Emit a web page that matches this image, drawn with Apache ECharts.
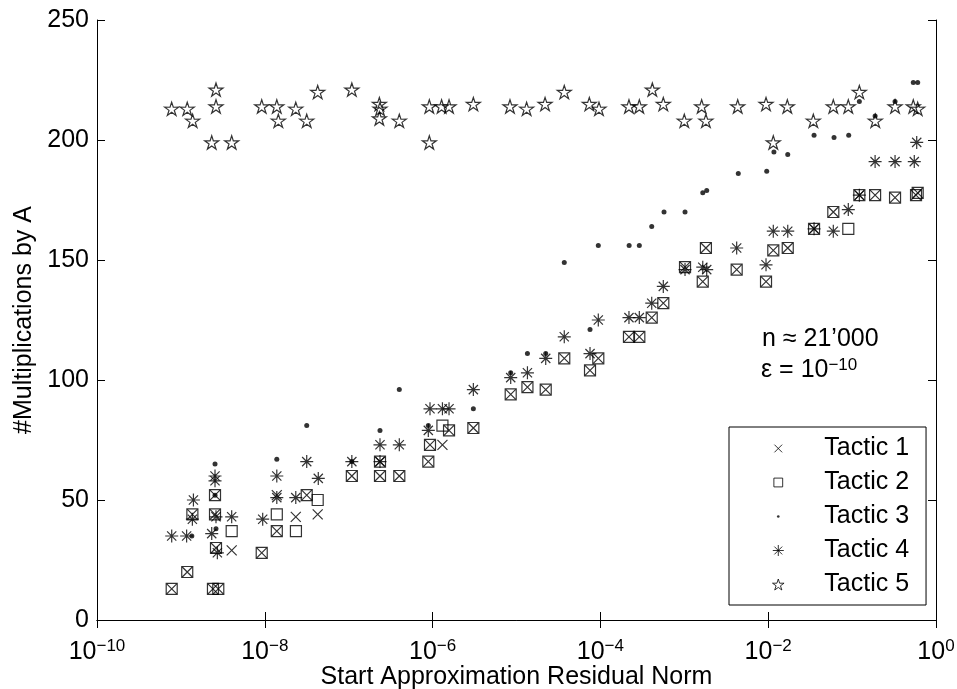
<!DOCTYPE html>
<html>
<head>
<meta charset="utf-8">
<script src="https://cdn.jsdelivr.net/npm/echarts@6/dist/echarts.min.js"></script>
<style>html,body{margin:0;padding:0;background:#fff}#c{width:957px;height:689px}</style>
</head>
<body>
<div id="c"></div>
<script>
// ---- data (x = start approximation residual norm, y = #multiplications by A) ----
const seriesNames = ['Tactic 1', 'Tactic 2', 'Tactic 3', 'Tactic 4', 'Tactic 5'];
const yTicks = [0, 50, 100, 150, 200, 250];
const xTickExponents = [-10, -8, -6, -4, -2, 0];

const tactic1 = [
  [7.77e-10,13],[1.19e-9,20],[1.37e-9,44],[2.41e-9,13],[2.79e-9,13],[2.55e-9,52],[2.55e-9,44],[2.62e-9,30],
  [9.19e-9,28],[1.39e-8,37],[3.16e-8,52],[1.09e-7,60],[2.36e-7,66],[2.36e-7,60],[4.01e-7,60],[8.89e-7,66],
  [9.31e-7,73],[1.57e-6,79],[3.06e-6,80],[8.53e-6,94],[1.35e-5,97],[2.23e-5,96],[3.71e-5,109],[7.52e-5,104],
  [9.44e-5,109],[2.19e-4,118],[2.91e-4,118],[4.09e-4,126],[5.62e-4,132],[1.02e-3,147],[1.66e-3,141],[1.81e-3,155],
  [4.21e-3,146],[9.42e-3,141],[1.15e-2,154],[1.71e-2,155],[3.52e-2,163],[5.97e-2,170],[0.122,177],[0.188,177],
  [0.325,176],[0.578,177],[0.605,178],
  [4.03e-9,29],[2.34e-8,43],[4.27e-8,44],[1.39e-8,52],[1.31e-6,73]
];
const tactic2 = [
  [7.77e-10,13],[1.19e-9,20],[1.37e-9,44],[2.41e-9,13],[2.79e-9,13],[2.55e-9,52],[2.55e-9,44],[2.62e-9,30],
  [9.19e-9,28],[1.39e-8,37],[3.16e-8,52],[1.09e-7,60],[2.36e-7,66],[2.36e-7,60],[4.01e-7,60],[8.89e-7,66],
  [9.31e-7,73],[1.57e-6,79],[3.06e-6,80],[8.53e-6,94],[1.35e-5,97],[2.23e-5,96],[3.71e-5,109],[7.52e-5,104],
  [9.44e-5,109],[2.19e-4,118],[2.91e-4,118],[4.09e-4,126],[5.62e-4,132],[1.02e-3,147],[1.66e-3,141],[1.81e-3,155],
  [4.21e-3,146],[9.42e-3,141],[1.15e-2,154],[1.71e-2,155],[3.52e-2,163],[5.97e-2,170],[0.122,177],[0.188,177],
  [0.325,176],[0.578,177],[0.605,178],
  [4.03e-9,37],[1.39e-8,44],[2.35e-8,37],[4.27e-8,50],[1.31e-6,81],[9.01e-2,163]
];
const tactic3 = [
  [1.35e-9,35],[2.62e-9,38],[2.55e-9,52],[2.55e-9,65],[1.39e-8,67],[3.16e-8,81],[1.09e-7,66],[2.36e-7,79],
  [4.01e-7,96],[8.89e-7,81],[3.06e-6,88],[8.53e-6,103],[1.35e-5,111],[2.23e-5,111],[3.71e-5,149],[7.52e-5,121],
  [9.44e-5,156],[2.2e-4,156],[2.91e-4,156],[4.09e-4,164],[5.73e-4,170],[1.02e-3,170],[1.66e-3,178],[1.85e-3,179],
  [4.40e-3,186],[9.6e-3,187],[1.17e-2,195],[1.71e-2,194],[3.52e-2,202],[6.09e-2,201],[9.11e-2,202],[0.122,216],
  [0.188,210],[0.325,216],[0.536,224],[0.605,224]
];
const tactic4 = [
  [7.77e-10,35],[1.17e-9,35],[1.41e-9,50],[1.37e-9,42],[2.33e-9,36],[2.72e-9,28],[2.62e-9,43],[2.55e-9,60],
  [2.55e-9,58],[4.03e-9,43],[9.44e-9,42],[1.39e-8,51],[1.39e-8,60],[2.34e-8,51],[3.16e-8,66],[4.34e-8,59],
  [1.09e-7,66],[2.36e-7,73],[4.01e-7,73],[2.36e-7,66],[8.89e-7,79],[9.31e-7,88],[1.31e-6,88],[1.57e-6,88],
  [3.06e-6,96],[8.53e-6,101],[1.35e-5,103],[2.23e-5,109],[3.71e-5,118],[7.52e-5,111],[9.44e-5,125],[2.19e-4,126],
  [2.91e-4,126],[4.09e-4,132],[5.62e-4,139],[1.02e-3,146],[1.66e-3,147],[1.85e-3,146],[4.21e-3,155],[9.42e-3,148],
  [1.15e-2,162],[1.71e-2,162],[3.52e-2,163],[5.97e-2,162],[9.01e-2,171],[0.122,177],[0.188,191],[0.325,191],
  [0.551,191],[0.589,199]
];
const tactic5 = [
  [7.76e-10,213],[1.19e-9,213],[1.38e-9,208],[2.62e-9,221],[2.62e-9,214],[2.33e-9,199],[4.03e-9,199],[9.19e-9,214],
  [1.39e-8,214],[1.45e-8,208],[2.34e-8,213],[3.16e-8,208],[4.27e-8,220],[1.09e-7,221],[2.32e-7,215],[2.36e-7,213],
  [2.32e-7,209],[4.01e-7,208],[9.14e-7,214],[9.14e-7,199],[1.28e-6,214],[1.57e-6,214],[3.06e-6,215],[8.36e-6,214],
  [1.32e-5,213],[2.19e-5,215],[3.71e-5,220],[7.38e-5,215],[9.62e-5,213],[2.19e-4,214],[2.91e-4,214],[4.16e-4,221],
  [5.62e-4,215],[1.0e-3,208],[1.61e-3,214],[1.81e-3,208],[4.33e-3,214],[9.42e-3,215],[1.15e-2,199],[1.69e-2,214],
  [3.45e-2,208],[5.97e-2,214],[9.01e-2,214],[0.122,220],[0.189,208],[0.325,214],[0.536,214],[0.605,213]
];

// ---- styling ----
const FONT = '"Liberation Sans", Arial, Helvetica, sans-serif';
const FS = 25;
const SYM_X = 'path://M0,0L10,10M10,0L0,10';
const SYM_AST = 'path://M5,0L5,10M0,5L10,5M1.46,1.46L8.54,8.54M8.54,1.46L1.46,8.54';
const SYM_STAR = 'path://M50,0L61.17,34.63L97.55,34.55L68.07,55.87L79.39,90.45L50,69L20.61,90.45L31.93,55.87L2.45,34.55L38.83,34.63Z';
const LEG_X = 'path://M0,0M10,10M1.5,1.5L8.5,8.5M8.5,1.5L1.5,8.5';
const LEG_SQ = 'path://M0,0M10,10M1,1L9,1L9,9L1,9Z';
const LEG_DOT = 'path://M0,0M10,10M3.8,5A1.2,1.2 0 1,0 6.2,5A1.2,1.2 0 1,0 3.8,5Z';
const LEG_AST = 'path://M5,0.5L5,9.5M0.5,5L9.5,5M1.8,1.8L8.2,8.2M8.2,1.8L1.8,8.2';
const LEG_STAR = SYM_STAR;

function expLabel(v) {
  const e = Math.round(Math.log10(v));
  if (xTickExponents.indexOf(e) < 0) return '';
  return '{b|10}{s|' + (e < 0 ? '\u2212' + (-e) : String(e)) + '}';
}

const open = { color: 'rgba(0,0,0,0)', borderColor: '#000', borderWidth: 1.2 };

const chart = echarts.init(document.getElementById('c'), null, { renderer: 'canvas' });
const axisCommonX = {
  type: 'log', logBase: 10, min: 1e-10, max: 1, interval: 2,
  axisLine: { show: true, lineStyle: { color: '#000', width: 1 } },
  axisTick: { show: true, inside: true, length: 8, lineStyle: { color: '#000', width: 1 } },
  splitLine: { show: false }, minorTick: { show: false }, minorSplitLine: { show: false }
};
const axisCommonY = {
  type: 'value', min: 0, max: 250, interval: 50,
  axisLine: { show: true, lineStyle: { color: '#000', width: 1 } },
  axisTick: { show: true, inside: true, length: 8, lineStyle: { color: '#000', width: 1 } },
  splitLine: { show: false }
};

chart.setOption({
  animation: false,
  backgroundColor: '#fff',
  grid: { left: 97, right: 21, top: 20, bottom: 69, containLabel: false, outerBoundsMode: 'none' },
  xAxis: [
    Object.assign({}, axisCommonX, {
      position: 'bottom',
      axisLabel: {
        formatter: expLabel, margin: 18, color: '#000',
        rich: {
          b: { fontSize: FS, fontFamily: FONT, color: '#000' },
          s: { fontSize: 17, fontFamily: FONT, color: '#000', verticalAlign: 'top', padding: [0, 0, 12, 0] }
        }
      },
      name: 'Start Approximation Residual Norm', nameLocation: 'middle', nameGap: 45, nameMoveOverlap: false,
      nameTextStyle: { fontSize: FS, fontFamily: FONT, color: '#000' }
    }),
    Object.assign({}, axisCommonX, { position: 'top', axisLabel: { show: false } })
  ],
  yAxis: [
    Object.assign({}, axisCommonY, {
      position: 'left',
      axisLabel: { fontSize: FS, fontFamily: FONT, color: '#000', margin: 8 },
      name: '#Multiplications by A', nameLocation: 'middle', nameGap: 60, nameMoveOverlap: false,
      nameTextStyle: { fontSize: FS, fontFamily: FONT, color: '#000' }
    }),
    Object.assign({}, axisCommonY, { position: 'right', axisLabel: { show: false } })
  ],
  legend: {
    left: 729, top: 427, orient: 'vertical',
    padding: [9, 17, 8, 43],
    itemWidth: 82, itemHeight: 11, itemGap: 9,
    backgroundColor: '#fff', borderColor: '#000', borderWidth: 1, borderRadius: 0,
    textStyle: { fontSize: FS, fontFamily: FONT, color: '#000' },
    itemStyle: { borderWidth: 1 },
    data: [
      { name: 'Tactic 1', icon: LEG_X },
      { name: 'Tactic 2', icon: LEG_SQ },
      { name: 'Tactic 3', icon: LEG_DOT },
      { name: 'Tactic 4', icon: LEG_AST },
      { name: 'Tactic 5', icon: LEG_STAR }
    ]
  },
  graphic: [
    { type: 'text', left: 762, top: 327, z: 10,
      style: { text: 'n \u2248 21\u2019000', font: FS + 'px ' + FONT, fill: '#000' } },
    { type: 'text', left: 761, top: 357, z: 10,
      style: {
        text: '{b|\u03b5 = 10}{s|\u221210}',
        rich: {
          b: { fontSize: FS, fontFamily: FONT, fill: '#000', color: '#000' },
          s: { fontSize: 17, fontFamily: FONT, fill: '#000', color: '#000', verticalAlign: 'top', padding: [0, 0, 10, 0] }
        }
      } }
  ],
  series: [
    { name: seriesNames[0], type: 'scatter', data: tactic1, symbol: SYM_X, symbolSize: 10,
      itemStyle: open, emphasis: { disabled: true } },
    { name: seriesNames[1], type: 'scatter', data: tactic2, symbol: 'rect', symbolSize: 11,
      itemStyle: open, emphasis: { disabled: true } },
    { name: seriesNames[2], type: 'scatter', data: tactic3, symbol: 'circle', symbolSize: 5,
      itemStyle: { color: '#000', borderWidth: 0 }, emphasis: { disabled: true } },
    { name: seriesNames[3], type: 'scatter', data: tactic4, symbol: SYM_AST, symbolSize: 13,
      itemStyle: open, emphasis: { disabled: true } },
    { name: seriesNames[4], type: 'scatter', data: tactic5, symbol: SYM_STAR, symbolSize: 14, symbolKeepAspect: true,
      itemStyle: open, emphasis: { disabled: true } }
  ]
});
</script>
</body>
</html>
